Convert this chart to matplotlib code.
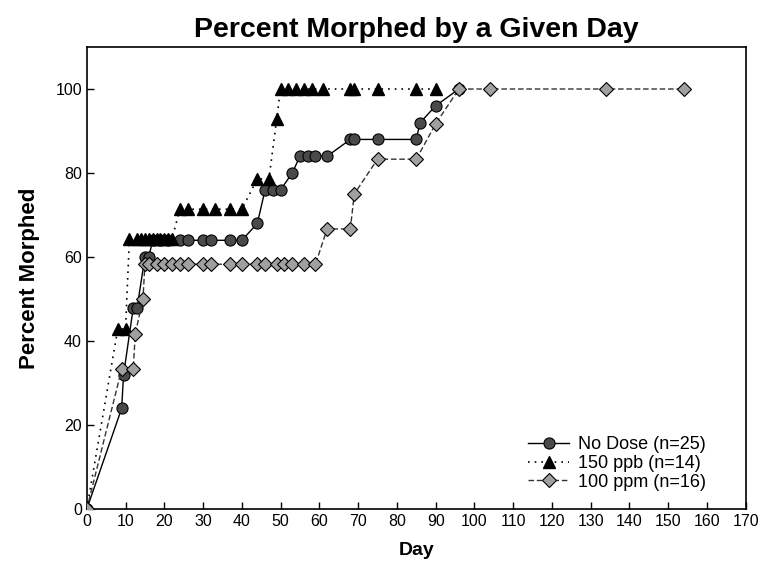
import matplotlib
matplotlib.use("Agg")
import matplotlib.pyplot as plt

plt.rcParams['font.family'] = ['Liberation Sans', 'DejaVu Sans']

# No Dose (n=25)
nodose_day = [0, 9, 9.5, 12, 13, 15, 16, 17, 19, 21, 24, 26, 30, 32, 37, 40, 44, 46, 48, 50,
              53, 55, 57, 59, 62, 68, 69, 75, 85, 86, 90, 96]
nodose_pct = [0, 24, 32, 48, 48, 60, 60, 64, 64, 64, 64, 64, 64, 64, 64, 64, 68, 76, 76, 76,
              80, 84, 84, 84, 84, 88, 88, 88, 88, 92, 96, 100]

# 150 ppb (n=14)
ppb_day = [0, 8, 10, 11, 13, 14, 15, 16, 17, 18, 19, 20, 21, 22, 24, 26, 30, 33, 37, 40,
           44, 47, 49, 50, 52, 54, 56, 58, 61, 68, 69, 75, 85, 90]
ppb_pct = [0, 42.9, 42.9, 64.3, 64.3, 64.3, 64.3, 64.3, 64.3, 64.3, 64.3, 64.3, 64.3, 64.3,
           71.4, 71.4, 71.4, 71.4, 71.4, 71.4, 78.6, 78.6, 92.9, 100, 100, 100, 100, 100,
           100, 100, 100, 100, 100, 100]

# 100 ppm (n=16)
ppm_day = [0, 9, 12, 12.5, 14.5, 15, 16, 18, 20, 22, 24, 26, 30, 32, 37, 40, 44, 46, 49, 51,
           53, 56, 59, 62, 68, 69, 75, 85, 90, 96, 104, 134, 154]
ppm_pct = [0, 33.3, 33.3, 41.7, 50, 58.3, 58.3, 58.3, 58.3, 58.3, 58.3, 58.3, 58.3, 58.3,
           58.3, 58.3, 58.3, 58.3, 58.3, 58.3, 58.3, 58.3, 58.3, 66.7, 66.7, 75, 83.3, 83.3,
           91.7, 100, 100, 100, 100]

fig = plt.figure(figsize=(7.61, 5.80), dpi=100)
ax = fig.add_axes([0.114, 0.122, 0.866, 0.797])

ax.plot(nodose_day, nodose_pct, color='black', lw=1.0, ls='-', marker='o', ms=8,
        mfc='#4a4a4a', mec='black', mew=0.8, label='No Dose (n=25)', zorder=3)
ax.plot(ppb_day, ppb_pct, color='black', lw=1.2, ls=(0, (1, 3)), marker='^', ms=8,
        mfc='black', mec='black', label='150 ppb (n=14)', zorder=4)
ax.plot(ppm_day, ppm_pct, color='#333333', lw=1.0, ls=(0, (4, 2)), marker='D', ms=7,
        mfc='#a0a0a0', mec='black', mew=0.8, label='100 ppm (n=16)', zorder=5)

ax.set_xlim(0, 170)
ax.set_ylim(0, 110)
ax.set_xticks(range(0, 171, 10))
ax.set_yticks(range(0, 101, 20))
ax.tick_params(direction='in', labelsize=11.5, length=5, width=1)
for s in ax.spines.values():
    s.set_linewidth(1.2)

ax.set_title('Percent Morphed by a Given Day', fontsize=20.5, fontweight='bold', pad=7)
ax.set_xlabel('Day', fontsize=14, fontweight='bold', labelpad=9)
ax.set_ylabel('Percent Morphed', fontsize=16, fontweight='bold', labelpad=11)

ax.legend(loc='lower right', bbox_to_anchor=(0.965, 0.005), frameon=False, fontsize=13,
          handlelength=2.3, labelspacing=0.1, handletextpad=0.5)

fig.savefig('out.png', dpi=100)
